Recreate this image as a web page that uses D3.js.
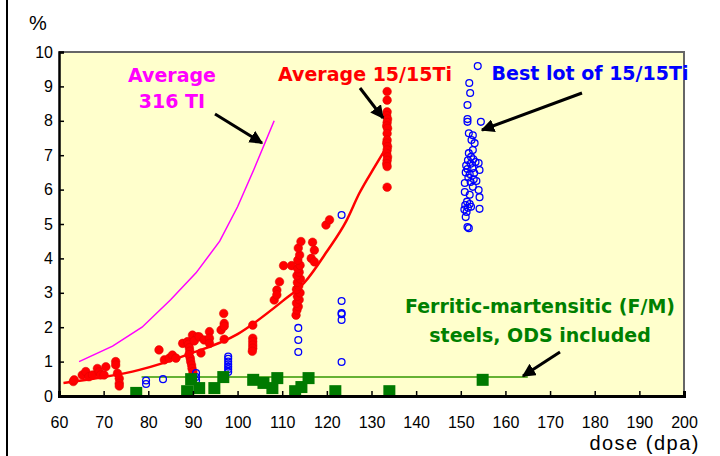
<!DOCTYPE html>
<html>
<head>
<meta charset="utf-8">
<script src="https://cdn.jsdelivr.net/npm/d3@7"></script>
<style>
  body { margin: 0; background: #fff; }
  svg { display: block; }
</style>
</head>
<body>
<svg id="chart" width="720" height="456"></svg>
<script>
// ---- data (dose in dpa, swelling in %) ----
const avg316 = [[64.5, 1.0], [72, 1.45], [78.6, 2.0], [85, 2.8], [90.7, 3.58], [96, 4.5], [100, 5.5], [103.7, 6.6], [108.2, 8.0]];

const avg1515 = [[61, 0.38], [70, 0.55], [78, 0.76], [88.5, 1.19], [100, 1.8], [110, 2.75], [115, 3.3], [120, 4.2], [124.4, 5.1], [127.3, 5.9], [130.7, 6.66], [133.2, 7.2]];

const redDots = [
  [63.2, 0.42], [63.4, 0.47], [65.2, 0.61], [66, 0.71], [66.7, 0.56], [67.5, 0.61], [68.6, 0.8], [69, 0.7],
  [69.3, 0.61], [70.1, 0.61], [70.5, 0.85], [72.7, 1.0], [72.7, 0.9], [73.1, 0.66], [73.5, 0.51], [73.5, 0.37],
  [73.5, 0.29], [82.4, 1.34], [83.6, 1.05], [84.7, 1.1], [85.4, 1.19], [86.2, 1.1], [87.7, 1.53], [88.8, 1.58],
  [89.9, 1.77], [91, 1.72], [89, 1.5], [89.2, 1.4], [89.3, 1.3], [89.1, 1.2], [89.4, 1.1], [89.5, 1.0],
  [89.7, 0.9], [89.8, 0.8], [90, 0.7], [90.3, 1.6], [91.4, 1.72], [91.8, 1.25], [92.5, 1.63], [93.7, 1.87],
  [93.7, 1.68], [93.7, 1.53], [96.3, 1.92], [97, 2.11], [97, 2.03], [96.9, 2.4], [97, 1.65], [103.4, 2.06],
  [103.4, 1.68], [103.4, 1.58], [103.4, 1.48], [103.4, 1.39], [103.3, 1.3], [108.2, 2.79], [108.8, 3.08],
  [108.8, 2.94], [109.4, 3.32], [110.3, 3.79], [112.1, 3.79], [113.1, 2.35], [113.3, 2.5], [113.6, 2.6],
  [113.2, 2.7], [113.8, 2.8], [113.4, 2.9], [114, 3.0], [113.2, 3.1], [113.7, 3.2], [113.4, 3.3], [114.1, 3.4],
  [113.3, 3.5], [113.8, 3.6], [113.5, 3.7], [114, 3.8], [113.5, 3.95], [113.9, 4.1], [113.6, 4.3], [114.2, 4.49],
  [116.8, 4.47], [117.2, 4.24], [116.5, 4.0], [117.2, 3.9], [119.8, 4.97], [120.6, 5.12],
  [133.5, 8.85], [133.5, 8.6], [133.5, 8.26], [133.4, 8.15], [133.6, 8.05], [133.5, 7.95], [133.4, 7.85],
  [133.6, 7.78], [133.5, 7.63], [133.5, 7.44], [133.4, 7.35], [133.6, 7.25], [133.5, 7.15], [133.4, 7.05],
  [133.6, 6.95], [133.5, 6.85], [133.4, 6.75], [133.5, 6.67], [133.5, 6.07]
];

const blueCircles = [
  [79.5, 0.35], [79.5, 0.45], [83.3, 0.49], [90.7, 0.45], [90.7, 0.55], [90.7, 0.67],
  [97.9, 0.7], [97.9, 0.78], [97.9, 0.85], [97.9, 0.92], [97.9, 1.0], [97.9, 1.08], [97.9, 1.15],
  [113.6, 1.28], [113.6, 1.63], [113.6, 1.98],
  [123.3, 0.99], [123.3, 2.21], [123.3, 2.38], [123.3, 2.41], [123.3, 2.76], [123.3, 5.26],
  [153.8, 9.59], [151.9, 9.1], [152.1, 8.81], [151.5, 8.46], [151.5, 8.05], [151.5, 7.97], [154.5, 7.97],
  [151.8, 7.64], [152.7, 7.58], [153.1, 7.35], [152.4, 7.44], [152.7, 7.15], [151.8, 7.06], [152.3, 6.95],
  [151.6, 6.85], [152.8, 6.88], [151.2, 6.7], [152.2, 6.75], [153.3, 6.8], [154.0, 6.77], [151.5, 6.6],
  [152.6, 6.62], [154.2, 6.57], [151.1, 6.5], [152.0, 6.45], [153.0, 6.48], [151.7, 6.35], [152.9, 6.3],
  [150.9, 6.19], [152.2, 6.22], [153.5, 6.25], [152.7, 6.08], [150.9, 5.93], [154.0, 5.99], [152.0, 5.85],
  [154.2, 5.78], [151.4, 5.65], [151.0, 5.55], [152.0, 5.58], [151.6, 5.47], [150.8, 5.42], [152.3, 5.5],
  [154.2, 5.44], [151.3, 5.35], [151.1, 5.2], [151.5, 4.91], [151.8, 4.88]
];

const greenSquares = [
  [77.3, 0.09], [88.7, 0.14], [89.6, 0.49], [91.4, 0.23], [94.8, 0.23], [96.8, 0.55], [103.5, 0.47],
  [105.8, 0.38], [107.8, 0.23], [108.9, 0.52], [112.9, 0.14], [114.3, 0.26], [115.9, 0.52], [121.9, 0.14],
  [134, 0.14], [154.9, 0.47]
];

const fmLine = [[78.5, 0.55], [165, 0.55]];

const xTicks = d3.range(60, 201, 10);
const yTicks = d3.range(0, 11, 1);

// ---- layout ----
const svg = d3.select("#chart");
const x = d3.scaleLinear().domain([60, 200]).range([59, 684]);
const y = d3.scaleLinear().domain([0, 10]).range([396, 52]);

// slide edge line at far left
svg.append("line").attr("x1", 7).attr("x2", 7).attr("y1", 0).attr("y2", 456)
  .attr("stroke", "#000").attr("stroke-width", 2);

// plot background and frame
svg.append("rect")
  .attr("x", x(60)).attr("y", y(10))
  .attr("width", x(200) - x(60)).attr("height", y(0) - y(10))
  .attr("fill", "#FFFFCC");
svg.append("path")
  .attr("d", `M${x(60)},${y(10)}H${x(200)}V${y(0)}`)
  .attr("fill", "none").attr("stroke", "#666").attr("stroke-width", 2);

svg.append("clipPath").attr("id", "plotclip")
  .append("rect").attr("x", x(60)).attr("y", y(10))
  .attr("width", x(200) - x(60)).attr("height", y(0) - y(10));

const g = svg.append("g").attr("clip-path", "url(#plotclip)");

const line = d3.line().x(d => x(d[0])).y(d => y(d[1]));

// F/M reference line
g.append("path").datum(fmLine).attr("d", line)
  .attr("fill", "none").attr("stroke", "#339900").attr("stroke-width", 1.5);

// 316 Ti average
g.append("path").datum(avg316).attr("d", line)
  .attr("fill", "none").attr("stroke", "#FF00FF").attr("stroke-width", 1.5);

// red dots
g.append("g").selectAll("circle").data(redDots).join("circle")
  .attr("cx", d => x(d[0])).attr("cy", d => y(d[1])).attr("r", 4.3)
  .attr("fill", "#FF0000").attr("stroke", "#DD0000").attr("stroke-width", 0.5);

// 15/15Ti average curve
g.append("path").datum(avg1515).attr("d", line.curve(d3.curveMonotoneX))
  .attr("fill", "none").attr("stroke", "#FF0000").attr("stroke-width", 2.5);

// blue open circles
g.append("g").selectAll("circle").data(blueCircles).join("circle")
  .attr("cx", d => x(d[0])).attr("cy", d => y(d[1])).attr("r", 3.4)
  .attr("fill", "none").attr("stroke", "#0000FF").attr("stroke-width", 1.3);

// green squares
const sq = 12;
g.append("g").selectAll("rect").data(greenSquares).join("rect")
  .attr("x", d => x(d[0]) - sq / 2).attr("y", d => y(d[1]) - sq / 2)
  .attr("width", sq).attr("height", sq).attr("fill", "#007A00");

// axes
const yAxis = svg.append("g").attr("transform", `translate(${x(60)},0)`)
  .call(d3.axisLeft(y).tickValues(yTicks).tickSize(-5).tickPadding(6));
const xAxis = svg.append("g").attr("transform", `translate(0,${y(0)})`)
  .call(d3.axisBottom(x).tickValues(xTicks).tickSize(-5).tickPadding(21));
[yAxis, xAxis].forEach(a => {
  a.selectAll("text").attr("font-family", "'Liberation Sans', Arial, sans-serif")
    .attr("font-size", 16).attr("fill", "#000");
  a.selectAll("line").attr("stroke", "#000").attr("stroke-width", 1.5);
});
yAxis.select(".domain").attr("stroke", "#000").attr("stroke-width", 2.5);
xAxis.select(".domain").attr("stroke", "#000").attr("stroke-width", 3);

// axis titles
svg.append("text").attr("x", 38).attr("y", 30).attr("text-anchor", "middle")
  .attr("font-family", "'Liberation Sans', Arial, sans-serif").attr("font-size", 20)
  .text("%");
svg.append("text").attr("x", 700).attr("y", 450).attr("text-anchor", "end")
  .attr("font-family", "'Liberation Sans', Arial, sans-serif").attr("font-size", 20)
  .attr("letter-spacing", 1.5)
  .text("dose (dpa)");

// annotations
const note = (tx, ty, txt, color, size) => svg.append("text")
  .attr("x", tx).attr("y", ty).attr("text-anchor", "middle")
  .attr("font-family", "'DejaVu Sans', Verdana, sans-serif").attr("font-weight", "bold")
  .attr("font-size", size).attr("fill", color).text(txt);

note(172, 82, "Average", "#FF00FF", 19);
note(172, 108, "316 TI", "#FF00FF", 19);
note(365, 81, "Average 15/15Ti", "#FF0000", 19);
note(590, 80, "Best lot of 15/15Ti", "#0000FF", 19);
note(540, 313, "Ferritic-martensitic (F/M)", "#008000", 19);
note(540, 342, "steels, ODS included", "#008000", 19);

// arrows
const defs = svg.append("defs");
defs.append("marker").attr("id", "head").attr("viewBox", "0 0 10 10")
  .attr("refX", 9).attr("refY", 5).attr("markerWidth", 4.5).attr("markerHeight", 4.5)
  .attr("orient", "auto")
  .append("path").attr("d", "M0,0L10,5L0,10Z").attr("fill", "#000");

const arrows = [
  [[215, 114], [262, 143]],
  [[360, 88], [383, 118]],
  [[582, 93], [482, 130]],
  [[560, 352], [523, 376]]
];
svg.append("g").selectAll("line").data(arrows).join("line")
  .attr("x1", d => d[0][0]).attr("y1", d => d[0][1])
  .attr("x2", d => d[1][0]).attr("y2", d => d[1][1])
  .attr("stroke", "#000").attr("stroke-width", 3)
  .attr("marker-end", "url(#head)");
</script>
</body>
</html>
